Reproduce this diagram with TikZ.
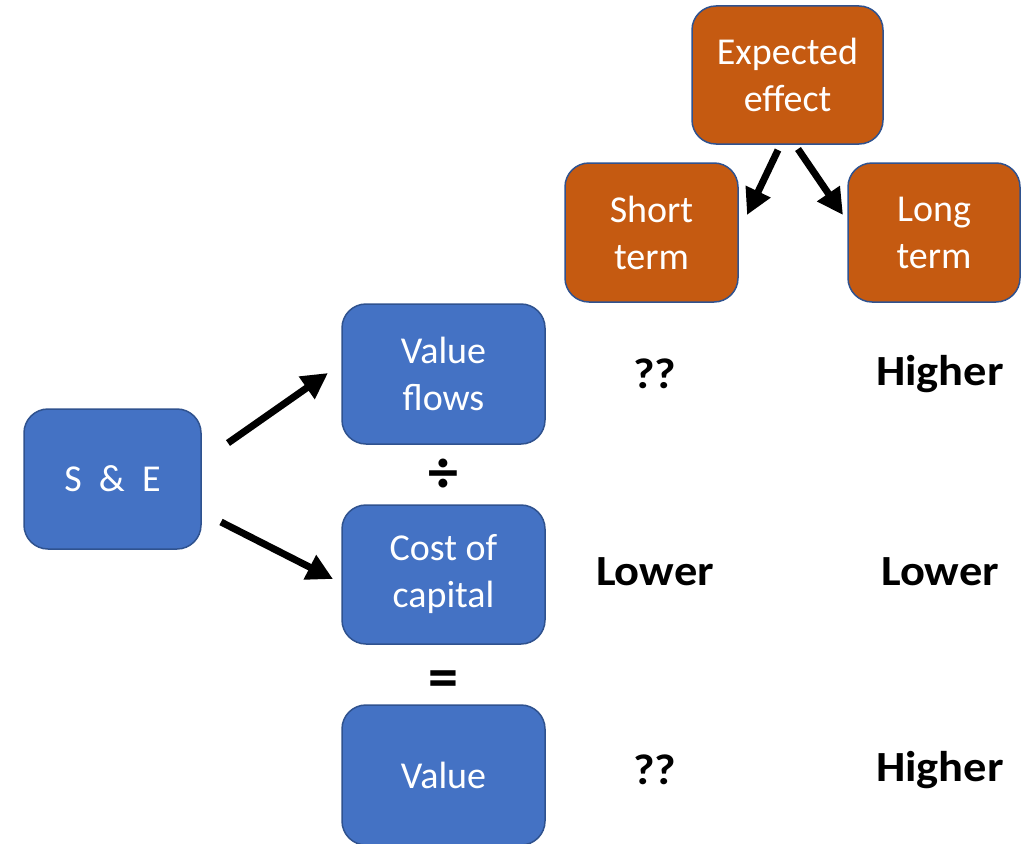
\documentclass[tikz,border=0pt]{standalone}
\usepackage{fontspec}
\setmainfont{Carlito}
\usetikzlibrary{arrows.meta}
\definecolor{boxblue}{HTML}{4472C4}
\definecolor{boxorange}{HTML}{C55A11}
\definecolor{edgeblue}{HTML}{2F528F}
\tikzset{
  basebox/.style={rectangle, rounded corners=24pt, draw=edgeblue, line width=1.5pt,
    inner sep=0pt, text=white, align=center,
    font=\fontsize{38}{47}\selectfont},
  bluebox/.style={basebox, fill=boxblue, minimum width=203pt, minimum height=140pt},
  orangebox/.style={basebox, fill=boxorange},
  result/.style={font=\fontsize{43}{50}\selectfont\bfseries\addfontfeatures{FakeStretch=1.08}, inner sep=0pt},
  operator/.style={font=\fontsize{60}{64}\selectfont\bfseries, inner sep=0pt},
  bigarrow/.style={line width=7pt, -{Triangle[length=26pt,width=26pt]}},
}
\begin{document}
\begin{tikzpicture}[x=1pt,y=-1pt]
\useasboundingbox (0,0) rectangle (1030,843);
% orange boxes
\node[orangebox, minimum width=191pt, minimum height=138pt] (exp) at (787.5,75) {Expected\\effect};
\node[orangebox, minimum width=173pt, minimum height=139pt] (short) at (651.5,232.5) {Short\\term};
\node[orangebox, minimum width=172pt, minimum height=139pt] (long) at (934,232.5) {Long\\term};
% blue boxes
\node[bluebox, minimum width=177pt] (se) at (112.5,479) {S\ \ \&\ \ E};
\node[bluebox] (vf) at (443.5,374) {Value\\flows};
\node[bluebox, minimum height=139pt] (coc) at (443.5,574.5) {Cost of\\capital};
\node[bluebox] (val) at (443.5,775) {Value};
% operators
\node[operator] (div) at (443.5,476) {÷};
\node[operator] (eq) at (443.5,684) {=};
% results
\node[result] (r1s) at (655,374) {??};
\node[result] (r1l) at (940,374) {Higher};
\node[result] (r2s) at (655,572) {Lower};
\node[result] (r2l) at (940,572) {Lower};
\node[result] (r3s) at (655,770) {??};
\node[result] (r3l) at (940,770) {Higher};
% arrow endpoints
\coordinate (a1s) at (228,443);
\coordinate (a1e) at (328,373);
\coordinate (a2s) at (221,522);
\coordinate (a2e) at (333,579);
\coordinate (a3s) at (778,150);
\coordinate (a3e) at (747,215);
\coordinate (a4s) at (798,149);
\coordinate (a4e) at (843,215);
\draw[bigarrow] (a1s) -- (a1e);
\draw[bigarrow] (a2s) -- (a2e);
\draw[bigarrow] (a3s) -- (a3e);
\draw[bigarrow] (a4s) -- (a4e);
\end{tikzpicture}
\end{document}
